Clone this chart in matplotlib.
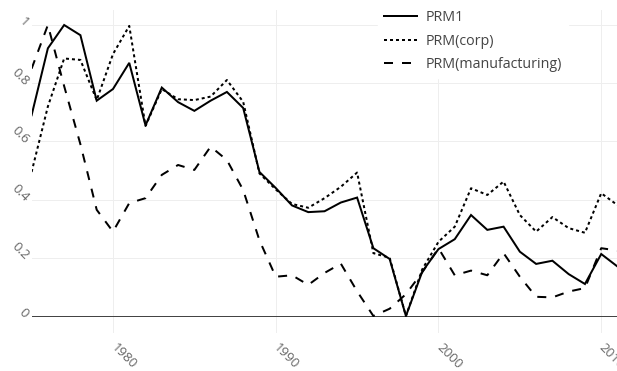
import matplotlib
matplotlib.use("Agg")
import matplotlib.pyplot as plt

years = list(range(1975, 2012))
prm1 = [0.69, 0.92, 1.0, 0.965, 0.74, 0.78, 0.87, 0.655, 0.785, 0.735,
        0.705, 0.74, 0.77, 0.715, 0.495, 0.44, 0.38, 0.357, 0.36, 0.39,
        0.407, 0.233, 0.196, 0.0, 0.152, 0.23, 0.264, 0.347, 0.296, 0.307,
        0.221, 0.179, 0.19, 0.144, 0.11, 0.213, 0.17]
prm_corp = [0.495, 0.72, 0.885, 0.88, 0.742, 0.9, 0.997, 0.653, 0.78, 0.745,
            0.742, 0.754, 0.811, 0.736, 0.49, 0.435, 0.385, 0.372, 0.405, 0.444,
            0.493, 0.216, 0.2, 0.0, 0.16, 0.255, 0.307, 0.439, 0.416, 0.462,
            0.347, 0.29, 0.34, 0.302, 0.286, 0.422, 0.381]
prm_manu = [0.85, 1.0, 0.79, 0.59, 0.365, 0.29, 0.388, 0.405, 0.485, 0.519,
            0.502, 0.582, 0.536, 0.433, 0.26, 0.135, 0.14, 0.107, 0.148, 0.18,
            0.085, 0.0, 0.025, 0.075, 0.15, 0.233, 0.14, 0.156, 0.14, 0.216,
            0.135, 0.066, 0.064, 0.084, 0.096, 0.233, 0.225]
series_names = ["PRM1", "PRM(corp)", "PRM(manufacturing)"]
xticks = [1980, 1990, 2000, 2010]
yticks = [0, 0.2, 0.4, 0.6, 0.8, 1]
ytick_labels = ["0", "0.2", "0.4", "0.6", "0.8", "1"]

plt.rcParams['font.family'] = ['Open Sans', 'DejaVu Sans']
plt.rcParams['lines.scale_dashes'] = False

W, H = 617, 371
fig = plt.figure(figsize=(W / 100, H / 100), dpi=100)
left, right, top, bottom = 31.6, 617.5, 10, 333
ax = fig.add_axes([left / W, 1 - bottom / H, (right - left) / W, (bottom - top) / H])

px = 0.72  # points per pixel
lw = 2 * px
ax.plot(years, prm1, color='black', lw=lw, label=series_names[0], solid_joinstyle='miter')
ax.plot(years, prm_corp, color='black', lw=lw, label=series_names[1],
        dashes=(3 * px, 3 * px), dash_capstyle='butt')
ax.plot(years, prm_manu, color='black', lw=lw, label=series_names[2],
        dashes=(9 * px, 9 * px), dash_capstyle='butt')

ax.set_xlim(1975, 2011)
ax.set_ylim(-0.0584, 1.0516)
for s in ax.spines.values():
    s.set_visible(False)

ax.set_xticks(xticks)
ax.set_xticklabels([str(x) for x in xticks], rotation=-45, ha='left', va='center',
                   rotation_mode='anchor', color='#666666', fontsize=9.5)
ax.set_yticks(yticks)
ax.set_yticklabels(ytick_labels, rotation=-45, ha='right', va='center',
                   rotation_mode='anchor', color='#666666', fontsize=9.5)
ax.tick_params(axis='x', length=0, pad=13 * px)
ax.tick_params(axis='y', length=0, pad=5 * px)
ax.grid(True, color='#eeeeee', lw=1 * px)
ax.set_axisbelow(True)
ax.axhline(0, color='#444444', lw=1 * px, zorder=1.5)

leg = ax.legend(loc='upper left', bbox_to_anchor=(378 / W, 1 - 4 / H),
                bbox_transform=fig.transFigure, frameon=True, fancybox=False,
                fontsize=10.3, handlelength=2.3, handletextpad=0.56,
                labelspacing=0.57, borderpad=0.45, borderaxespad=0)
leg.get_frame().set_facecolor('white')
leg.get_frame().set_edgecolor('white')
leg.get_frame().set_alpha(1)
for t in leg.get_texts():
    t.set_color('#444444')

fig.savefig('out.png', dpi=100)
